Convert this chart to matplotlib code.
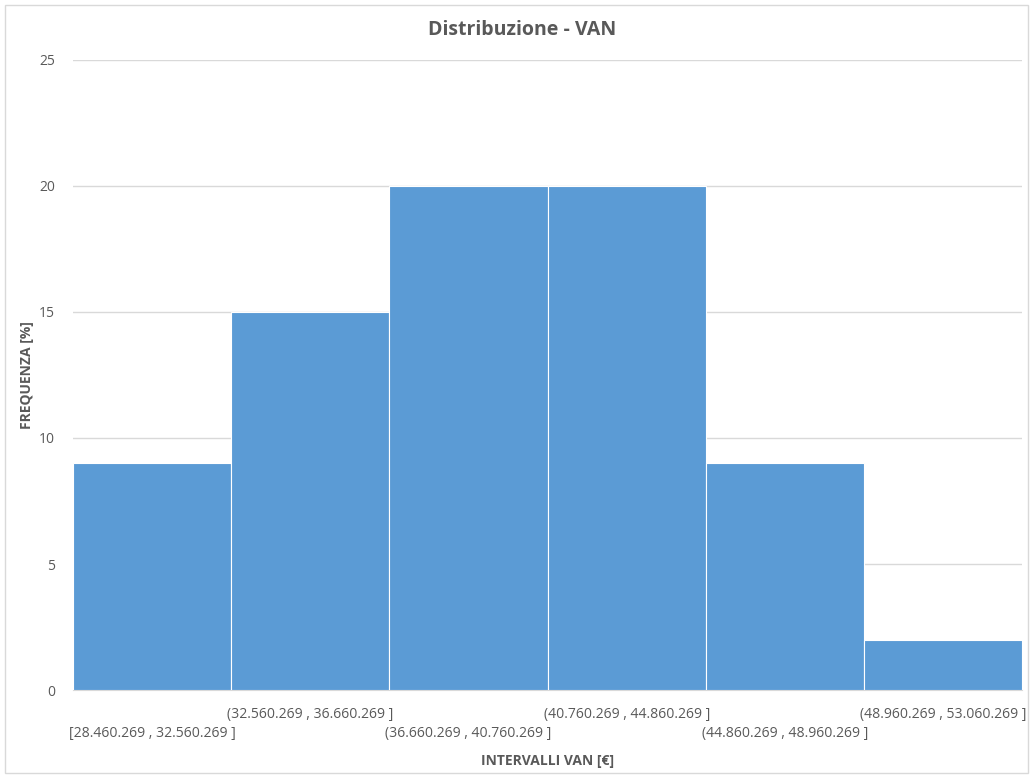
import matplotlib.pyplot as plt
from matplotlib.patches import Rectangle

# Dati istogramma
intervalli = [
    "[28.460.269 , 32.560.269 ]",
    "(32.560.269 , 36.660.269 ]",
    "(36.660.269 , 40.760.269 ]",
    "(40.760.269 , 44.860.269 ]",
    "(44.860.269 , 48.960.269 ]",
    "(48.960.269 , 53.060.269 ]",
]
frequenze = [9, 15, 20, 20, 9, 2]
y_ticks = [0, 5, 10, 15, 20, 25]

plt.rcParams['font.family'] = ['Open Sans', 'DejaVu Sans']
grey = '#595959'

fig = plt.figure(figsize=(10.33, 7.78), dpi=100)
ax = fig.add_axes([0.0707, 0.1131, 0.9187, 0.8098])

pos = list(range(len(frequenze)))
ax.bar(pos, frequenze, width=1.0, color='#5B9BD5', edgecolor='white', linewidth=0.8, zorder=3)

ax.set_xlim(-0.5, len(frequenze) - 0.5)
ax.set_ylim(0, 25)
ax.set_yticks(y_ticks)
ax.set_yticklabels([str(v) for v in y_ticks], color=grey, fontsize=10)

# etichette alternate su due righe
labels = [("\n" + l) if i % 2 == 0 else l for i, l in enumerate(intervalli)]
ax.set_xticks(pos)
ax.set_xticklabels(labels, color=grey, fontsize=10.1, linespacing=1.4)
ax.tick_params(axis='both', length=0)
ax.tick_params(axis='x', pad=12)
ax.tick_params(axis='y', pad=13)

ax.grid(axis='y', color='#D9D9D9', linewidth=1, zorder=0)
for s in ['top', 'right', 'left']:
    ax.spines[s].set_visible(False)
ax.spines['bottom'].set_color('#D9D9D9')

ax.set_ylabel('FREQUENZA [%]', fontsize=10, fontweight='bold', color=grey)
ax.yaxis.set_label_coords(-0.0485, 0.5)
ax.set_xlabel('INTERVALLI VAN [€]', fontsize=10, fontweight='bold', color=grey)
ax.xaxis.set_label_coords(0.5, -0.113)
ax.xaxis.label.set_va('center')
ax.yaxis.label.set_va('center')
fig.text(0.505, 0.962, 'Distribuzione - VAN', ha='center', va='center',
         fontsize=14, fontweight='bold', color=grey)

# bordo grigio del grafico
fig.patches.append(Rectangle((0.005, 0.006), 0.99, 0.988, transform=fig.transFigure,
                             fill=False, edgecolor='#D9D9D9', linewidth=1))

fig.savefig('out.png', dpi=100)
